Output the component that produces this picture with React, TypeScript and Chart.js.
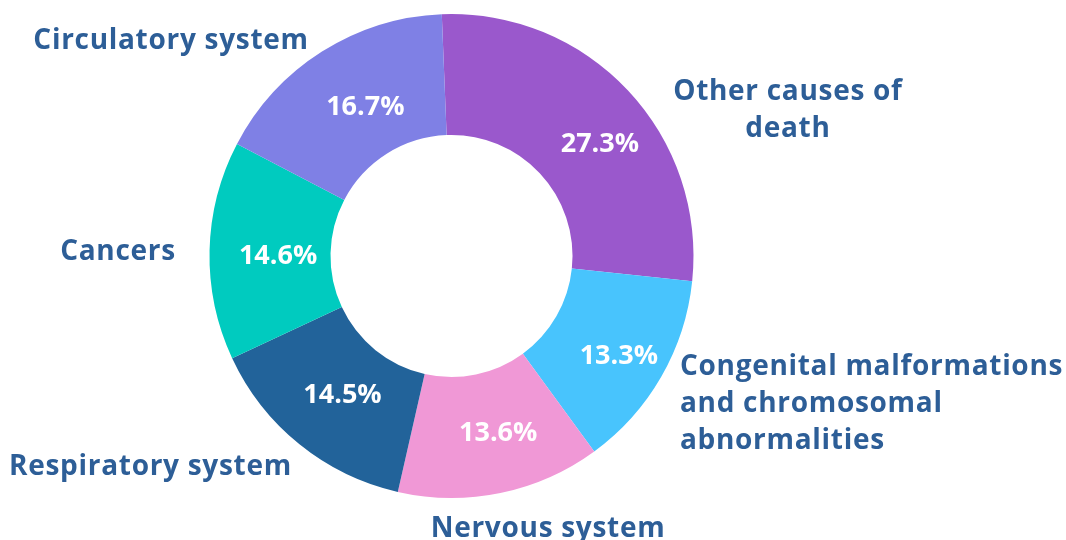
import React, { useEffect, useRef } from "react";
import { Chart, registerables } from "chart.js";

Chart.register(...registerables);

// ---- data ----
const categories: string[][] = [
  ["Other causes of", "death"],
  ["Congenital malformations", "and chromosomal", "abnormalities"],
  ["Nervous system"],
  ["Respiratory system"],
  ["Cancers"],
  ["Circulatory system"],
];
const shares: number[] = [27.3, 13.3, 13.6, 14.5, 14.6, 16.7];
const sliceColors: string[] = ["#9A58CC", "#48C4FD", "#F098D6", "#22639A", "#00CBBF", "#7F80E5"];

// ---- label layout (relative to chart centre, in units of outer radius) ----
const nameAnchors = [
  { dx: 1.39, dy: -0.645, align: "center" },
  { dx: 0.944, dy: 0.492, align: "left" },
  { dx: 0.399, dy: 1.161, align: "center" },
  { dx: -1.244, dy: 0.905, align: "center" },
  { dx: -1.378, dy: 0.017, align: "center" },
  { dx: -1.159, dy: -0.855, align: "center" },
];
// small nudges (px) for the percentage labels from the slice centroid
const pctNudge = [
  [16, 12],
  [10, 10],
  [10, 0],
  [5, -2],
  [8, 4],
  [11, 5],
];

const TEXT_COLOR = "#2D5E97";
const FONT_FAMILY = "'Open Sans', 'Noto Sans', sans-serif";

const labelPlugin = {
  id: "sliceLabels",
  afterDatasetsDraw(chart: any) {
    const ctx = chart.ctx;
    const meta = chart.getDatasetMeta(0);
    ctx.save();
    meta.data.forEach((arc: any, i: number) => {
      const { x, y, outerRadius } = arc.getProps(["x", "y", "outerRadius"], true);
      // percentage
      const pos = arc.tooltipPosition(true);
      (ctx as any).letterSpacing = "0px";
      ctx.font = `700 27px ${FONT_FAMILY}`;
      ctx.fillStyle = "#FFFFFF";
      ctx.textAlign = "center";
      ctx.textBaseline = "middle";
      ctx.fillText(`${shares[i].toFixed(1)}%`, pos.x + pctNudge[i][0], pos.y + pctNudge[i][1]);
      // category name
      const a = nameAnchors[i];
      const lx = x + a.dx * outerRadius;
      const ly = y + a.dy * outerRadius;
      (ctx as any).letterSpacing = "0.7px";
      ctx.font = `700 28px ${FONT_FAMILY}`;
      ctx.fillStyle = TEXT_COLOR;
      ctx.textAlign = a.align;
      ctx.textBaseline = "alphabetic";
      categories[i].forEach((line, k) => {
        ctx.fillText(line, lx, ly + k * 37);
      });
    });
    ctx.restore();
  },
};

export default function App() {
  const canvasRef = useRef<HTMLCanvasElement | null>(null);

  useEffect(() => {
    document.body.style.margin = "0";
    const canvas = canvasRef.current;
    if (!canvas) return;
    const chart = new Chart(canvas, {
      type: "doughnut",
      data: {
        labels: categories.map((c) => c.join(" ")),
        datasets: [
          {
            data: shares,
            backgroundColor: sliceColors,
            borderWidth: 0,
            hoverOffset: 0,
          },
        ],
      },
      options: {
        responsive: false,
        animation: false,
        rotation: -2.3,
        radius: 242,
        cutout: "50%",
        layout: { padding: { left: 0, right: 163, top: 14, bottom: 42 } },
        plugins: {
          legend: { display: false },
          tooltip: { enabled: false },
        },
        events: [],
      } as any,
      plugins: [labelPlugin],
    });
    return () => chart.destroy();
  }, []);

  return (
    <div style={{ width: 1066, height: 540, background: "#FFFFFF" }}>
      <canvas ref={canvasRef} width={1066} height={540} style={{ display: "block" }} />
    </div>
  );
}
